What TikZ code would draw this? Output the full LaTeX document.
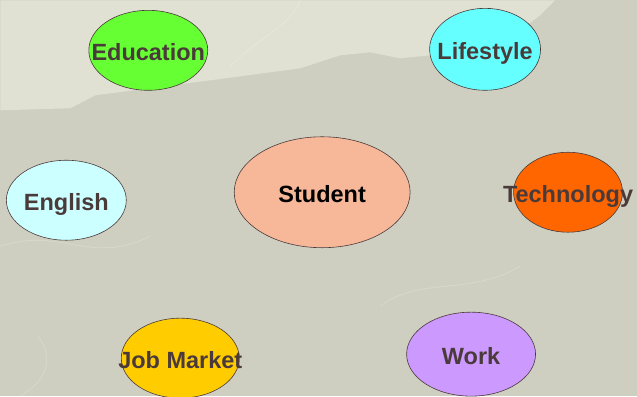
\documentclass[tikz,border=0pt]{standalone}
\usepackage{fontspec}
\setmainfont{Liberation Sans}
\usetikzlibrary{positioning, shapes.geometric}

\definecolor{paperdark}{HTML}{CFCFC1}
\definecolor{paperlight}{HTML}{E1E1D3}
\definecolor{rim}{HTML}{4A3A3A}
\definecolor{ink}{HTML}{4A3A3A}
\definecolor{peach}{HTML}{F7B89A}
\definecolor{grass}{HTML}{66FF33}
\definecolor{aqua}{HTML}{66FFFF}
\definecolor{icy}{HTML}{CCFFFF}
\definecolor{blaze}{HTML}{FF6600}
\definecolor{gold}{HTML}{FFCC00}
\definecolor{lilac}{HTML}{CC99FF}

\begin{document}
\begin{tikzpicture}[
            bubble/.style={
                ellipse,
                draw=rim,
                line width=0.6pt,
                inner sep=0pt,
                text height=20pt,
                text depth=0pt,
                text=ink,
                font=\fontsize{23.5}{28}\selectfont\bfseries
            },
            fibre/.style={white, opacity=0.2, line width=0.7pt},
            on grid
        ]

        % Paper
        \fill[paperdark] (0,0) rectangle (637pt,396pt);
        \fill[paperlight] (0pt,396pt) -- (0pt,286pt) -- (70pt,288pt) -- (95pt,301pt)
            -- (210pt,316pt) -- (300pt,328pt) -- (340pt,341pt) -- (370pt,344pt)
            -- (400pt,338pt) -- (430pt,341pt) -- (470pt,351pt) -- (520pt,366pt)
            -- (540pt,381pt) -- (555pt,396pt) -- cycle;
        \draw[fibre] (38pt,60pt) .. controls (55pt,35pt) and (45pt,15pt) .. (20pt,0pt);
        \draw[fibre] (0pt,150pt) .. controls (60pt,170pt) and (90pt,130pt) .. (150pt,160pt);
        \draw[fibre] (380pt,90pt) .. controls (420pt,120pt) and (470pt,100pt) .. (520pt,130pt);
        \draw[fibre] (230pt,330pt) .. controls (260pt,360pt) and (290pt,370pt) .. (300pt,396pt);
        \useasboundingbox (0,0) rectangle (637pt,396pt);

        % Nodes
        \node[bubble, fill=peach, text=black, minimum width=176pt, minimum height=111pt]
            (Student) at (322pt,204pt) {\makebox[0pt]{Student}};
        \node[bubble, fill=grass, minimum width=119pt, minimum height=80pt,
            above left=142pt and 174pt of Student] (Education) {\makebox[0pt]{Education}};
        \node[bubble, fill=aqua, minimum width=111pt, minimum height=82pt,
            above right=143pt and 163pt of Student] (Lifestyle) {\makebox[0pt]{Lifestyle}};
        \node[bubble, fill=icy, minimum width=120pt, minimum height=80pt,
            below left=8pt and 256pt of Student] (English) {\makebox[0pt]{English}};
        \node[bubble, fill=blaze, minimum width=109pt, minimum height=80pt,
            right=246pt of Student] (Technology) {\makebox[0pt]{Technology}};
        \node[bubble, fill=gold, minimum width=118pt, minimum height=80pt,
            below left=166pt and 142pt of Student] (JobMarket) {\makebox[0pt]{Job Market}};
        \node[bubble, fill=lilac, minimum width=129pt, minimum height=84pt,
            below right=162pt and 149pt of Student] (Work) {\makebox[0pt]{Work}};

        \end{tikzpicture}
\end{document}
